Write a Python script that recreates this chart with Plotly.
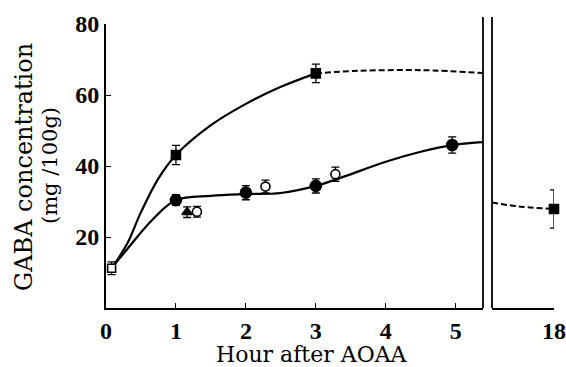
import plotly.graph_objects as go

# ---- data ----
sq_x = [1, 3];        sq_y = [43.1, 66.1];   sq_e = [2.7, 2.6]
sq18_x = [18];        sq18_y = [27.9];       sq18_e = [5.4]
fc_x = [1, 2, 3, 4.95]; fc_y = [30.4, 32.5, 34.4, 45.9]; fc_e = [1.5, 2.0, 2.0, 2.3]
oc_x = [1.3, 2.28, 3.28]; oc_y = [27.1, 34.2, 37.7]; oc_e = [1.5, 1.8, 2.0]
os_x = [0.08]; os_y = [11.2]; os_e = [1.8]
tr_x = [1.16]; tr_y = [27.0]; tr_e = [1.5]

curveA_x = [0.08, 0.3, 0.5, 0.75, 1, 1.5, 2, 2.5, 3]
curveA_y = [11.2, 18.0, 27.0, 36.5, 43.1, 51.5, 57.5, 62.3, 66.1]
dashA_x = [3, 3.6, 4.5, 5.39]
dashA_y = [66.1, 66.8, 67.0, 66.2]
curveB_x = [0.08, 0.3, 0.67, 1, 1.5, 2, 2.5, 3, 3.4, 4, 4.5, 5, 5.39]
curveB_y = [11.2, 16.5, 25.0, 30.4, 31.6, 32.1, 32.4, 34.4, 37.0, 41.2, 44.0, 46.0, 46.7]
dashC_x = [16.65, 17.3, 18]
dashC_y = [29.7, 28.5, 27.9]

xticks_main = [0, 1, 2, 3, 4, 5]
xticks_break = [18]
yticks = [20, 40, 60, 80]

TICKFONT = "Liberation Serif"
TITLEFONT = "DejaVu Serif"
fig = go.Figure()

def line(x, y, xa, dash=None, w=2.2):
    fig.add_trace(go.Scatter(x=x, y=y, mode="lines", xaxis=xa, yaxis="y",
                             line=dict(color="black", width=w, shape="spline",
                                       smoothing=1.0, dash=dash),
                             hoverinfo="skip", showlegend=False))

def pts(x, y, e, xa, symbol, size, open_=False):
    fig.add_trace(go.Scatter(
        x=x, y=y, mode="markers", xaxis=xa, yaxis="y", cliponaxis=False,
        marker=dict(symbol=symbol, size=size,
                    color="white" if open_ else "black",
                    line=dict(color="black", width=1.6)),
        error_y=dict(type="data", array=e, color="black", thickness=1.3, width=4),
        showlegend=False))

line(curveA_x, curveA_y, "x")
line(dashA_x, dashA_y, "x", dash="6px,3px", w=2)
line(curveB_x, curveB_y, "x")
line(dashC_x, dashC_y, "x2", dash="6px,3px", w=2)

pts(sq_x, sq_y, sq_e, "x", "square", 9)
pts(sq18_x, sq18_y, sq18_e, "x2", "square", 9)
pts(fc_x, fc_y, fc_e, "x", "circle", 11)
pts(oc_x, oc_y, oc_e, "x", "circle", 9, open_=True)
pts(os_x, os_y, os_e, "x", "square", 8, open_=True)
pts(tr_x, tr_y, tr_e, "x", "triangle-up", 9)

tickfont = dict(family=TICKFONT, size=24, color="black", weight="bold")
axcommon = dict(showgrid=False, zeroline=False, showline=True, linecolor="black",
                linewidth=1.8, ticks="inside", ticklen=5, tickwidth=1.3,
                tickcolor="black", tickfont=tickfont, ticklabeloverflow="allow",
                automargin=False)

W, H = 566, 367
l, r, t, b = 106, 12, 24, 59
pw = W - l - r
ph = H - t - b
d1 = (483 - l) / pw
d2 = (492 - l) / pw

fig.update_layout(
    width=W, height=H, margin=dict(l=l, r=r, t=t, b=b, autoexpand=False),
    paper_bgcolor="white", plot_bgcolor="white",
    font=dict(family=TICKFONT, color="black"),
    xaxis=dict(domain=[0, d1], range=[0, 5.39], tickvals=xticks_main, **axcommon),
    xaxis2=dict(domain=[d2, 1], range=[16.65, 18], tickvals=xticks_break,
                anchor="y", **axcommon),
    yaxis=dict(range=[0, 80], tickvals=yticks, **axcommon),
)

ext = (308 - 17) / ph
fig.add_shape(type="line", xref="paper", yref="paper", x0=d1, x1=d1, y0=0, y1=ext,
              line=dict(color="black", width=1.8))
fig.add_shape(type="line", xref="paper", yref="paper", x0=d2, x1=d2, y0=0, y1=ext,
              line=dict(color="black", width=1.8))

fig.add_annotation(text="Hour after AOAA", xref="paper", yref="paper",
                   x=(312 - l) / pw, y=-(354 - 308) / ph,
                   showarrow=False, font=dict(family=TITLEFONT, size=22, color="black"),
                   xanchor="center", yanchor="middle")
fig.add_annotation(text="GABA concentration", xref="paper", yref="paper",
                   x=-(l - 24) / pw, y=(308 - 167) / ph, textangle=-90,
                   showarrow=False, font=dict(family=TITLEFONT, size=24, color="black"),
                   xanchor="center", yanchor="middle")
fig.add_annotation(text="(mg /100g)", xref="paper", yref="paper",
                   x=-(l - 50) / pw, y=(308 - 166) / ph, textangle=-90,
                   showarrow=False, font=dict(family=TITLEFONT, size=21, color="black"),
                   xanchor="center", yanchor="middle")

fig.write_html("out.html", config={"displayModeBar": False},
               post_script="document.documentElement.style.overflow='hidden';"
                           "document.body.style.margin='0';"
                           "document.body.style.overflow='hidden';")
